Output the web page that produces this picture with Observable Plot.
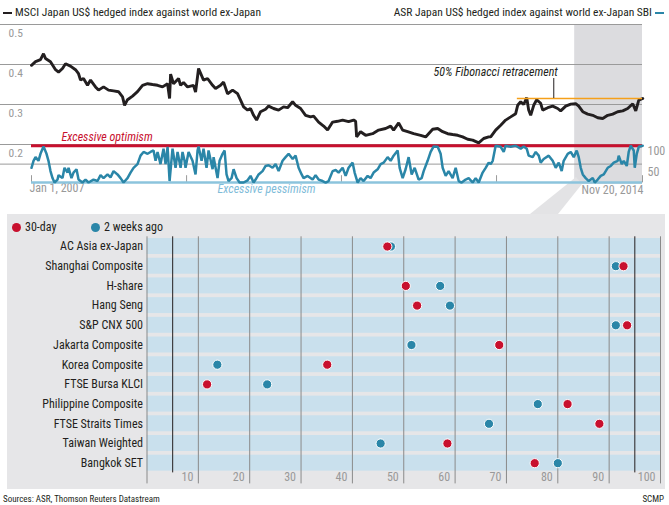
<!DOCTYPE html>
<html><head><meta charset="utf-8">
<script src="https://cdn.jsdelivr.net/npm/d3@7"></script>
<script src="https://cdn.jsdelivr.net/npm/@observablehq/plot@0.6"></script>
<style>
body{margin:0;background:#fff;}
#wrap{position:relative;width:669px;height:505px;overflow:hidden;font-family:"Liberation Sans Narrow","Arial Narrow","Roboto Condensed",sans-serif;color:#231f20;}
.abs{position:absolute;white-space:nowrap;}
.dash{display:inline-block;width:9px;height:2px;vertical-align:middle;margin:0 3px;}
.dot{position:absolute;width:9px;height:9px;border-radius:50%;}
</style></head><body>
<div id="wrap">
  <div class="abs" style="left:0;top:4px;font-size:11.5px;line-height:16px;"><span class="dash" style="background:#231f20"></span>MSCI Japan US$ hedged index against world ex-Japan</div>
  <div class="abs" style="right:2px;top:4px;font-size:11.5px;line-height:16px;">ASR Japan US$ hedged index against world ex-Japan SBI<span class="dash" style="background:#2a86a8"></span></div>
  <div class="abs" style="left:7px;top:214px;width:658px;height:275px;background:#e6e6e8;"></div>
  <div id="topA" class="abs" style="left:0;top:0;"></div>
  <svg class="abs" style="left:0;top:0;" width="669" height="505"><polygon points="576,177 582,184 558,214 530,214" fill="#e3e3e5"/></svg>
  <div id="topB" class="abs" style="left:0;top:0;"></div>
  <div id="bottom" class="abs" style="left:0;top:214px;"></div>
  <div class="dot" style="left:11.5px;top:222.5px;background:#c8102e;"></div>
  <div class="abs" style="left:25px;top:219px;font-size:12px;line-height:16px;">30-day</div>
  <div class="dot" style="left:90.5px;top:222.5px;background:#2a86a8;"></div>
  <div class="abs" style="left:104px;top:219px;font-size:12px;line-height:16px;">2 weeks ago</div>
  <div class="abs" style="left:3px;top:493px;font-size:9px;line-height:12px;">Sources: ASR, Thomson Reuters Datastream</div>
  <div class="abs" style="right:5px;top:493px;font-size:9px;line-height:12px;">SCMP</div>
</div>
<script>
// ---- Top chart data: [years since Jan 1 2007, value] ----
const msciSeries = [
[0.000,0.398],[0.052,0.407],[0.116,0.412],[0.155,0.427],[0.181,0.415],[0.245,0.407],[0.310,0.387],[0.349,0.381],[0.400,0.390],[0.439,0.402],[0.503,0.396],[0.568,0.387],[0.607,0.377],[0.633,0.361],[0.671,0.365],[0.723,0.348],[0.762,0.361],[0.826,0.344],[0.865,0.336],[0.930,0.344],[0.994,0.336],[1.059,0.334],[1.123,0.332],[1.175,0.319],[1.201,0.298],[1.239,0.312],[1.304,0.321],[1.368,0.332],[1.433,0.348],[1.498,0.352],[1.562,0.350],[1.627,0.348],[1.691,0.344],[1.756,0.352],[1.782,0.315],[1.795,0.376],[1.833,0.352],[1.898,0.365],[1.924,0.348],[1.962,0.355],[2.014,0.344],[2.091,0.348],[2.117,0.331],[2.143,0.370],[2.156,0.390],[2.220,0.361],[2.272,0.365],[2.337,0.348],[2.375,0.340],[2.440,0.348],[2.479,0.356],[2.530,0.327],[2.595,0.336],[2.659,0.327],[2.698,0.311],[2.737,0.294],[2.789,0.286],[2.827,0.290],[2.866,0.273],[2.905,0.261],[2.956,0.282],[3.021,0.288],[3.060,0.296],[3.124,0.290],[3.189,0.286],[3.253,0.294],[3.305,0.292],[3.370,0.307],[3.408,0.298],[3.473,0.290],[3.537,0.273],[3.602,0.269],[3.641,0.271],[3.705,0.256],[3.770,0.246],[3.821,0.236],[3.886,0.256],[3.950,0.258],[4.015,0.261],[4.092,0.257],[4.157,0.261],[4.183,0.258],[4.196,0.219],[4.247,0.232],[4.312,0.223],[4.402,0.227],[4.480,0.236],[4.570,0.240],[4.635,0.246],[4.673,0.236],[4.738,0.254],[4.790,0.236],[4.854,0.232],[4.932,0.227],[5.022,0.223],[5.087,0.219],[5.177,0.238],[5.242,0.240],[5.306,0.232],[5.371,0.227],[5.435,0.225],[5.500,0.223],[5.564,0.219],[5.629,0.213],[5.693,0.211],[5.771,0.204],[5.835,0.215],[5.900,0.219],[5.926,0.219],[5.990,0.236],[6.055,0.248],[6.119,0.261],[6.184,0.269],[6.248,0.277],[6.274,0.298],[6.313,0.307],[6.352,0.300],[6.391,0.317],[6.416,0.286],[6.442,0.273],[6.481,0.298],[6.520,0.312],[6.571,0.303],[6.597,0.286],[6.662,0.292],[6.726,0.296],[6.791,0.290],[6.829,0.284],[6.894,0.296],[6.959,0.301],[7.023,0.302],[7.062,0.296],[7.114,0.282],[7.178,0.276],[7.243,0.273],[7.307,0.267],[7.372,0.265],[7.436,0.273],[7.501,0.276],[7.565,0.282],[7.630,0.284],[7.694,0.290],[7.759,0.302],[7.798,0.284],[7.837,0.311],[7.888,0.315]
];
const sbiSeries = [
[0.000,40],[0.026,59],[0.052,69],[0.090,59],[0.116,78],[0.155,98],[0.194,78],[0.219,59],[0.245,31],[0.271,12],[0.297,0],[0.336,8],[0.349,20],[0.400,12],[0.426,40],[0.465,27],[0.478,40],[0.516,12],[0.542,27],[0.581,36],[0.607,8],[0.658,0],[0.697,8],[0.736,0],[0.800,8],[0.852,4],[0.891,20],[0.930,12],[0.981,22],[1.020,14],[1.059,31],[1.110,22],[1.149,12],[1.188,0],[1.239,12],[1.278,27],[1.317,40],[1.368,50],[1.407,73],[1.446,83],[1.498,78],[1.536,83],[1.575,87],[1.601,59],[1.627,83],[1.665,50],[1.704,92],[1.730,50],[1.756,97],[1.782,4],[1.820,92],[1.859,40],[1.885,83],[1.924,40],[1.949,83],[1.975,59],[1.988,40],[2.027,83],[2.078,59],[2.117,22],[2.143,87],[2.156,98],[2.195,59],[2.220,92],[2.259,40],[2.285,87],[2.337,36],[2.350,69],[2.401,12],[2.427,59],[2.466,78],[2.492,87],[2.517,22],[2.543,4],[2.582,12],[2.608,36],[2.647,12],[2.685,0],[2.737,0],[2.789,6],[2.827,18],[2.866,0],[2.892,8],[2.931,22],[2.982,31],[3.021,45],[3.060,47],[3.111,40],[3.150,50],[3.189,31],[3.240,59],[3.279,69],[3.318,78],[3.370,64],[3.408,73],[3.447,40],[3.486,22],[3.511,12],[3.563,18],[3.628,8],[3.666,20],[3.705,8],[3.757,4],[3.796,0],[3.834,4],[3.886,31],[3.925,34],[3.963,27],[4.015,40],[4.054,18],[4.092,40],[4.144,54],[4.170,27],[4.209,0],[4.247,12],[4.286,4],[4.338,18],[4.376,12],[4.415,27],[4.467,36],[4.506,50],[4.544,54],[4.596,69],[4.635,59],[4.673,73],[4.725,87],[4.751,40],[4.790,12],[4.828,36],[4.867,69],[4.906,22],[4.945,40],[4.996,8],[5.035,12],[5.061,31],[5.112,59],[5.151,83],[5.190,98],[5.242,97],[5.280,78],[5.306,40],[5.345,18],[5.383,31],[5.435,12],[5.474,40],[5.513,4],[5.551,0],[5.603,8],[5.642,12],[5.693,0],[5.732,12],[5.771,0],[5.822,27],[5.861,40],[5.900,54],[5.926,50],[5.952,59],[5.990,100],[6.055,97],[6.094,83],[6.119,100],[6.184,97],[6.248,100],[6.313,92],[6.352,98],[6.391,92],[6.416,73],[6.468,69],[6.507,83],[6.546,73],[6.571,54],[6.610,64],[6.675,73],[6.726,59],[6.765,40],[6.804,54],[6.842,31],[6.868,59],[6.920,78],[6.959,83],[6.998,69],[7.036,87],[7.062,69],[7.088,40],[7.114,22],[7.152,12],[7.191,4],[7.243,12],[7.269,0],[7.307,8],[7.346,18],[7.385,22],[7.436,40],[7.475,45],[7.514,54],[7.565,59],[7.578,73],[7.617,50],[7.643,59],[7.682,45],[7.707,83],[7.733,100],[7.772,87],[7.785,40],[7.811,78],[7.837,97],[7.888,100]
];
const yTicksLeft = [0.2, 0.3, 0.4, 0.5];
const dateTicks = ["2007-01-01", "2009-01-01", "2011-01-01", "2013-01-01", "2014-11-20"];
const fibLevel = 0.315;

// ---- Bottom chart data ----
const indices = ["AC Asia ex-Japan","Shanghai Composite","H-share","Hang Seng","S&P CNX 500","Jakarta Composite","Korea Composite","FTSE Bursa KLCI","Philippine Composite","FTSE Straits Times","Taiwan Weighted","Bangkok SET"];
const thirtyDay   = [46.8, 92.8, 50.4, 52.6, 93.5, 68.6, 35.1, 11.7, 81.9, 88.1, 58.5, 75.5];
const twoWeeksAgo = [47.5, 91.3, 57.1, 59.0, 91.3, 51.5, 13.7, 23.4, 76.1, 66.6, 45.5, 80.0];
const xTicks = [10,20,30,40,50,60,70,80,90,100];
const thresholds = [5, 95];

const FONT = '"Liberation Sans Narrow","Arial Narrow","Roboto Condensed",sans-serif';
const RED = "#c8102e", TEAL = "#2a86a8", LIGHTBLUE = "#8cc4dd", GRID = "#9a9a9a";
const start = new Date(Date.UTC(2007,0,1)), end = new Date(Date.UTC(2014,10,20));
const toDate = t => new Date(start.getTime() + t*365.25*864e5);
const msci = msciSeries.map(([t,v]) => ({date: toDate(t), v}));
const sbi = sbiSeries.map(([t,v]) => ({date: toDate(t), v}));
const common = {width: 669, height: 200, marginTop: 24, marginBottom: 16, marginLeft: 31, marginRight: 27,
  style: {fontFamily: FONT, fontSize: "11.5px", background: "transparent", overflow: "visible"}};
const xScale = {type: "utc", domain: [start, end], axis: null};

const plotA = Plot.plot({...common, x: xScale, y: {domain: [0.1, 0.5], axis: null},
  marks: [
    Plot.rect([{a: toDate(7.01), b: end}], {x1: "a", x2: "b", y1: 0.1, y2: 0.5, fill: "#dcdcdf"}),
    Plot.ruleY(yTicksLeft, {y: d => d, stroke: GRID, insetLeft: -31}),
    Plot.text(yTicksLeft, {y: d => d, text: d => d.toFixed(1), frameAnchor: "left", textAnchor: "start", dx: -23, dy: 9, fill: "#999"}),
    Plot.ruleX(dateTicks, {x: d => new Date(d), y1: 0.104, y2: 0.122, stroke: GRID}),
    Plot.line(msci, {x: "date", y: "v", stroke: "#231f20", strokeWidth: 2.9, strokeLinejoin: "miter"}),
    Plot.ruleY([fibLevel], {y: d => d, x1: toDate(6.27), x2: end, stroke: "#f5a01a", strokeWidth: 1.5}),
    Plot.ruleX([toDate(6.74)], {x: d => d, y1: fibLevel, y2: 0.365, stroke: "#231f20"}),
    Plot.text(["50% Fibonacci retracement"], {x: toDate(5.99), y: 0.381, text: d => d, fontStyle: "italic", fontSize: 12, fill: "#231f20"}),
    Plot.text(["Jan 1, 2007"], {x: start, frameAnchor: "bottom", textAnchor: "start", dx: -2, dy: 7, text: d => d, fill: "#999", fontSize: 12}),
    Plot.text(["Nov 20, 2014"], {x: end, frameAnchor: "bottom", textAnchor: "end", dx: 1, dy: 9, text: d => d, fill: "#999", fontSize: 12}),
    Plot.text(["Excessive pessimism"], {x: toDate(2.40), frameAnchor: "bottom", textAnchor: "start", dy: 8, text: d => d, fill: "#7fbcd9", fontStyle: "italic", fontSize: 12})
  ]});
document.getElementById("topA").append(plotA);

const plotB = Plot.plot({...common, x: xScale, y: {domain: [-5.4, 429.4], axis: null},
  marks: [
    Plot.ruleY([50], {y: d => d, stroke: GRID, insetLeft: -31}),
    Plot.ruleY([0], {y: d => d, stroke: LIGHTBLUE, strokeWidth: 2.5}),
    Plot.ruleY([100], {y: d => d, stroke: RED, strokeWidth: 3}),
    Plot.line(sbi, {x: "date", y: "v", stroke: TEAL, strokeWidth: 2.5, strokeLinejoin: "miter"}),
    Plot.text([100], {y: d => d, text: d => String(d), frameAnchor: "right", textAnchor: "start", dx: 5, dy: 5, fill: "#999", fontSize: 12}),
    Plot.text([50], {y: d => d, text: d => String(d), frameAnchor: "right", textAnchor: "start", dx: 5, dy: 8, fill: "#999", fontSize: 12}),
    Plot.text(["Excessive optimism"], {x: toDate(0.387), y: 123, text: d => d, textAnchor: "start", fill: RED, fontStyle: "italic", fontSize: 12})
  ]});
document.getElementById("topB").append(plotB);

const rowsRed = indices.map((n, i) => ({name: n, v: thirtyDay[i]}));
const rowsTeal = indices.map((n, i) => ({name: n, v: twoWeeksAgo[i]}));
const plotC = Plot.plot({
  width: 669, height: 275, marginTop: 20.3, marginBottom: 14.6, marginLeft: 146.5, marginRight: 9,
  style: {fontFamily: FONT, fontSize: "12px", background: "transparent", overflow: "visible"},
  x: {domain: [0, 100], axis: null},
  y: {type: "band", domain: indices, padding: 0.19, round: false, axis: null},
  marks: [
    Plot.barX(indices, {y: d => d, x1: 0, x2: 100, fill: "#c9e0ed"}),
    Plot.ruleX([0, ...xTicks], {x: d => d, stroke: "#8a8a8a", insetTop: 2, insetBottom: -9}),
    Plot.ruleX(thresholds, {x: d => d, stroke: "#231f20", insetTop: 2, insetBottom: 2}),
    Plot.text(xTicks, {x: d => d, text: d => String(d), frameAnchor: "bottom", textAnchor: "end", dx: -5, dy: 6, fill: "#999"}),
    Plot.text(indices, {y: d => d, text: d => d, frameAnchor: "left", textAnchor: "end", dx: -4, fill: "#231f20"}),
    Plot.dot(rowsTeal, {x: "v", y: "name", r: 4.6, fill: TEAL, stroke: "white", strokeWidth: 1}),
    Plot.dot(rowsRed, {x: "v", y: "name", r: 4.6, fill: RED, stroke: "white", strokeWidth: 1})
  ]});
document.getElementById("bottom").append(plotC);
</script>
</body></html>
